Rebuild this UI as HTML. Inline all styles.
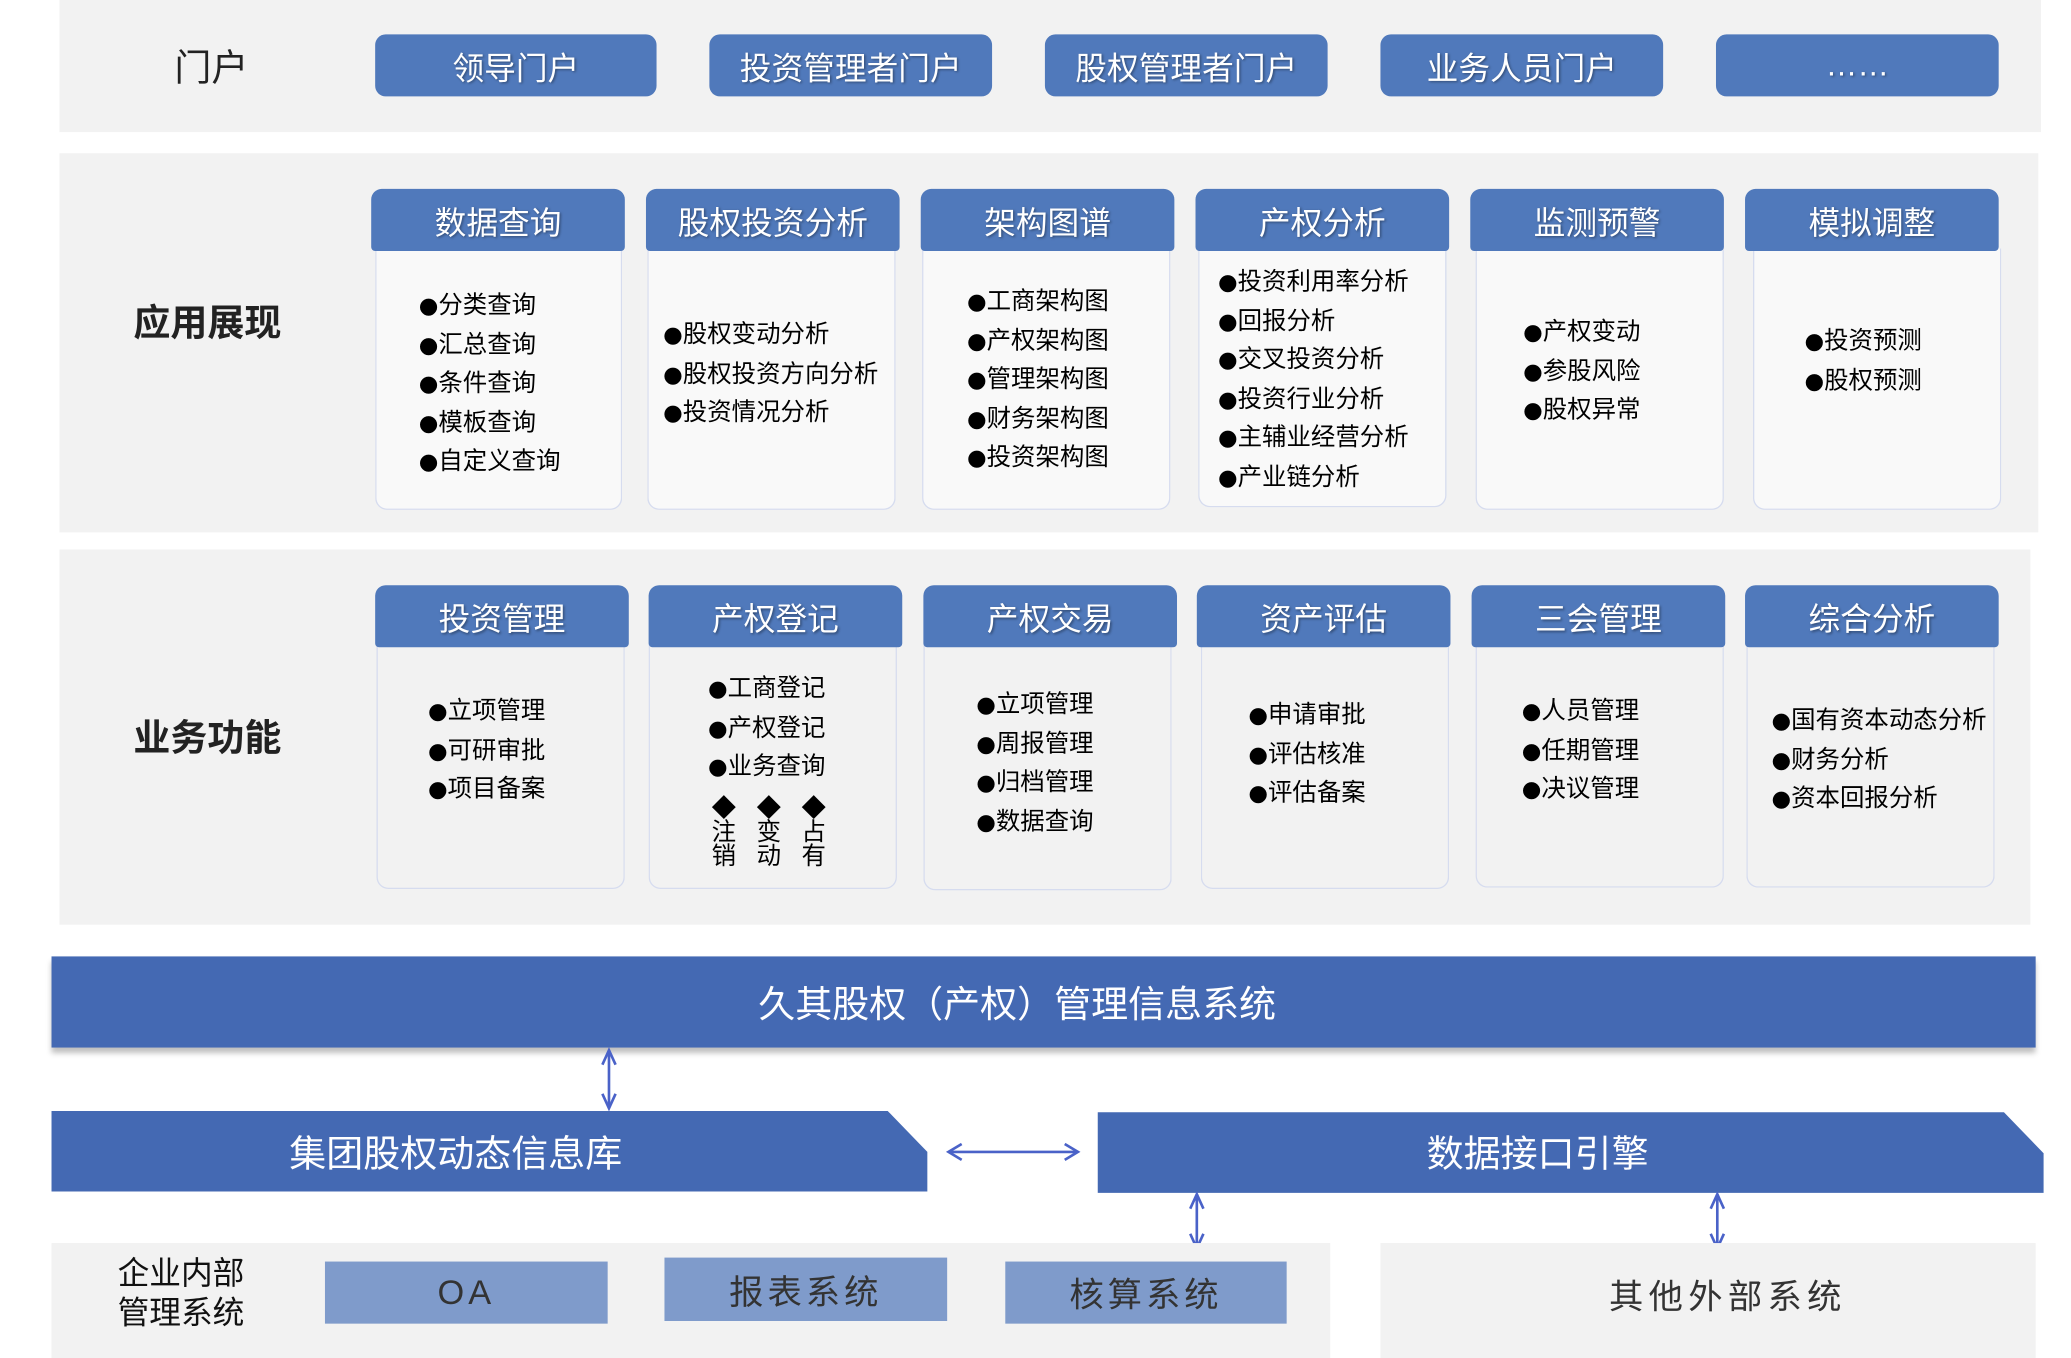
<!DOCTYPE html>
<html><head><meta charset="utf-8"><style>
html,body{margin:0;padding:0;background:#fff;overflow:hidden}
body{width:2071px;height:1358px;position:relative}
#c{position:absolute;left:0;top:0;width:1568px;height:1028px;transform:scale(1.321,1.321);transform-origin:0 0;font-family:"Liberation Sans","Noto Sans CJK SC",sans-serif}
.a{position:absolute;box-sizing:border-box}
.sec{background:#f2f2f2}
.lab{position:absolute;transform:translate(-50%,-50%);font-size:28px;color:#222;white-space:nowrap}
.btn{background:#5079bb;border-radius:8px;color:#fff;font-size:24px;display:flex;align-items:center;justify-content:center;text-shadow:1px 1px 2px rgba(0,0,0,.4)}
.hd{background:#5079bb;border-radius:8px 8px 3px 3px;color:#fff;font-size:24px;display:flex;align-items:center;justify-content:center;text-shadow:1px 1px 2px rgba(0,0,0,.4)}
.bd{border:1.5px solid #d6dcef;border-radius:0 0 9px 9px;border-top:none}
.w{background:#f9f9f9}
.g{background:#f2f2f2}
.li{position:absolute;font-size:18.5px;color:#000;line-height:29.5px;white-space:nowrap}
.li div{height:29.5px;overflow:visible}
.li b{font-family:"DejaVu Sans",sans-serif;font-weight:normal;font-size:17px;line-height:0}
.box{background:#7f9bcb;color:#333;font-size:26px;letter-spacing:3px;display:flex;align-items:center;justify-content:center}
</style></head><body><div id="c">
<div class="a sec" style="left:45px;top:0;width:1500px;height:100px"></div>
<div class="lab" style="left:160px;top:50px">门户</div>
<div class="a btn" style="left:284px;top:26px;width:213px;height:47px">领导门户</div>
<div class="a btn" style="left:537px;top:26px;width:214px;height:47px">投资管理者门户</div>
<div class="a btn" style="left:791px;top:26px;width:214px;height:47px">股权管理者门户</div>
<div class="a btn" style="left:1045px;top:26px;width:214px;height:47px">业务人员门户</div>
<div class="a btn" style="left:1299px;top:26px;width:214px;height:47px">……</div>
<div class="a sec" style="left:45px;top:116px;width:1498px;height:287px"></div>
<div class="lab" style="left:157px;top:243px;font-weight:bold">应用展现</div>
<div class="a bd w" style="left:284px;top:188px;width:187px;height:198px"></div>
<div class="a bd w" style="left:490px;top:188px;width:188px;height:198px"></div>
<div class="a bd w" style="left:698px;top:188px;width:188px;height:198px"></div>
<div class="a bd w" style="left:907px;top:188px;width:188px;height:196px"></div>
<div class="a bd w" style="left:1117px;top:188px;width:188px;height:198px"></div>
<div class="a bd w" style="left:1327px;top:188px;width:188px;height:198px"></div>
<div class="a hd" style="left:281px;top:143px;width:192px;height:47px">数据查询</div>
<div class="a hd" style="left:489px;top:143px;width:192px;height:47px">股权投资分析</div>
<div class="a hd" style="left:697px;top:143px;width:192px;height:47px">架构图谱</div>
<div class="a hd" style="left:905px;top:143px;width:192px;height:47px">产权分析</div>
<div class="a hd" style="left:1113px;top:143px;width:192px;height:47px">监测预警</div>
<div class="a hd" style="left:1321px;top:143px;width:192px;height:47px">模拟调整</div>
<div class="li" style="left:317px;top:216px"><div><b>●</b>分类查询</div><div><b>●</b>汇总查询</div><div><b>●</b>条件查询</div><div><b>●</b>模板查询</div><div><b>●</b>自定义查询</div></div>
<div class="li" style="left:502px;top:238px"><div><b>●</b>股权变动分析</div><div><b>●</b>股权投资方向分析</div><div><b>●</b>投资情况分析</div></div>
<div class="li" style="left:732px;top:213px"><div><b>●</b>工商架构图</div><div><b>●</b>产权架构图</div><div><b>●</b>管理架构图</div><div><b>●</b>财务架构图</div><div><b>●</b>投资架构图</div></div>
<div class="li" style="left:922px;top:198px"><div><b>●</b>投资利用率分析</div><div><b>●</b>回报分析</div><div><b>●</b>交叉投资分析</div><div><b>●</b>投资行业分析</div><div><b>●</b>主辅业经营分析</div><div><b>●</b>产业链分析</div></div>
<div class="li" style="left:1153px;top:236px"><div><b>●</b>产权变动</div><div><b>●</b>参股风险</div><div><b>●</b>股权异常</div></div>
<div class="li" style="left:1366px;top:243px"><div><b>●</b>投资预测</div><div><b>●</b>股权预测</div></div>
<div class="a sec" style="left:45px;top:416px;width:1492px;height:284px"></div>
<div class="lab" style="left:157px;top:557px;font-weight:bold">业务功能</div>
<div class="a bd g" style="left:285px;top:488px;width:188px;height:185px"></div>
<div class="a bd g" style="left:491px;top:488px;width:188px;height:185px"></div>
<div class="a bd g" style="left:699px;top:488px;width:188px;height:186px"></div>
<div class="a bd g" style="left:909px;top:488px;width:188px;height:185px"></div>
<div class="a bd g" style="left:1117px;top:488px;width:188px;height:184px"></div>
<div class="a bd g" style="left:1322px;top:488px;width:188px;height:184px"></div>
<div class="a hd" style="left:284px;top:443px;width:192px;height:47px">投资管理</div>
<div class="a hd" style="left:491px;top:443px;width:192px;height:47px">产权登记</div>
<div class="a hd" style="left:699px;top:443px;width:192px;height:47px">产权交易</div>
<div class="a hd" style="left:906px;top:443px;width:192px;height:47px">资产评估</div>
<div class="a hd" style="left:1114px;top:443px;width:192px;height:47px">三会管理</div>
<div class="a hd" style="left:1321px;top:443px;width:192px;height:47px">综合分析</div>
<div class="li" style="left:324px;top:523px"><div><b>●</b>立项管理</div><div><b>●</b>可研审批</div><div><b>●</b>项目备案</div></div>
<div class="li" style="left:536px;top:506px"><div><b>●</b>工商登记</div><div><b>●</b>产权登记</div><div><b>●</b>业务查询</div></div>
<div class="li" style="left:538px;top:603px;line-height:18px;text-align:center;width:20px">◆<br>注<br>销</div>
<div class="li" style="left:572px;top:603px;line-height:18px;text-align:center;width:20px">◆<br>变<br>动</div>
<div class="li" style="left:606px;top:603px;line-height:18px;text-align:center;width:20px">◆<br>占<br>有</div>
<div class="li" style="left:739px;top:518px"><div><b>●</b>立项管理</div><div><b>●</b>周报管理</div><div><b>●</b>归档管理</div><div><b>●</b>数据查询</div></div>
<div class="li" style="left:945px;top:526px"><div><b>●</b>申请审批</div><div><b>●</b>评估核准</div><div><b>●</b>评估备案</div></div>
<div class="li" style="left:1152px;top:523px"><div><b>●</b>人员管理</div><div><b>●</b>任期管理</div><div><b>●</b>决议管理</div></div>
<div class="li" style="left:1341px;top:530px"><div><b>●</b>国有资本动态分析</div><div><b>●</b>财务分析</div><div><b>●</b>资本回报分析</div></div>
<div class="a" style="left:39px;top:724px;width:1502px;height:69px;background:#4469b3;box-shadow:0 4px 4px rgba(0,0,0,.25);color:#fff;font-size:28px;display:flex;align-items:center;justify-content:center;padding-right:40px">久其股权（产权）管理信息系统</div>
<svg class="a" style="left:0;top:0" width="1568" height="1028">
<polygon points="39,841 672,841 702,872 702,902 39,902" fill="#4469b3"/>
<polygon points="831,842 1517,842 1547,873 1547,903 831,903" fill="#4469b3"/>
<g stroke="#4a62c8" stroke-width="2" fill="none">
<line x1="461" y1="795" x2="461" y2="839"/><polyline points="456,806 461,795 466,806"/><polyline points="456,828 461,839 466,828"/>
<line x1="718" y1="872" x2="816" y2="872"/><polyline points="728,866 718,872 728,878"/><polyline points="806,866 816,872 806,878"/>
<line x1="906" y1="904" x2="906" y2="945"/><polyline points="901,915 906,904 911,915"/><polyline points="901,934 906,945 911,934"/>
<line x1="1300" y1="904" x2="1300" y2="945"/><polyline points="1295,915 1300,904 1305,915"/><polyline points="1295,934 1300,945 1305,934"/>
</g>
</svg>
<div class="lab" style="left:345px;top:872px;color:#fff;font-size:28px">集团股权动态信息库</div>
<div class="lab" style="left:1164px;top:872px;color:#fff;font-size:28px">数据接口引擎</div>
<div class="a sec" style="left:39px;top:941px;width:968px;height:87px"></div>
<div class="a sec" style="left:1045px;top:941px;width:496px;height:87px"></div>
<div class="li" style="left:89px;top:950px;font-size:24px;line-height:30px;color:#111">企业内部<br>管理系统</div>
<div class="a box" style="left:246px;top:955px;width:214px;height:47px">OA</div>
<div class="a box" style="left:503px;top:952px;width:214px;height:48px">报表系统</div>
<div class="a box" style="left:761px;top:955px;width:213px;height:47px">核算系统</div>
<div class="lab" style="left:1308px;top:980px;font-size:26px;letter-spacing:4px;color:#333">其他外部系统</div>
</div></body></html>
